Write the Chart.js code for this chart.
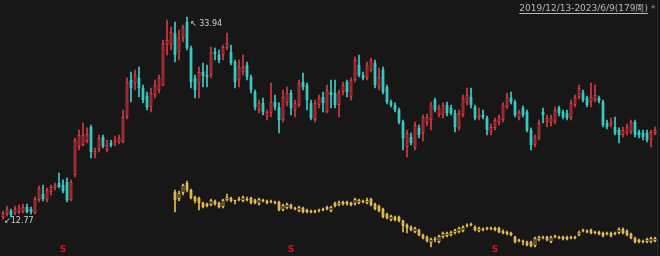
<!DOCTYPE html>
<html>
<head>
<meta charset="utf-8">
<script src="https://cdn.jsdelivr.net/npm/chart.js@4"></script>
<style>
  html, body { margin: 0; padding: 0; background: #171717; }
  #wrap { width: 660px; height: 256px; }
</style>
</head>
<body>
<div id="wrap"><canvas id="kline" width="660" height="256"></canvas></div>
<script>
// weekly candles, main stock
const open = [12.99,13.30,13.62,13.41,13.51,13.51,14.04,13.83,13.41,14.77,15.40,14.77,15.61,16.03,16.55,16.34,16.66,14.77,17.39,20.32,
  20.53,20.95,22.42,19.59,20.01,21.37,20.01,20.74,20.74,20.85,20.85,23.47,27.35,27.03,27.56,26.51,25.67,24.52,25.77,26.30,
  26.82,31.01,31.01,32.27,30.28,31.75,33.42,30.70,27.56,27.03,28.18,27.87,27.87,30.28,29.97,29.97,30.70,30.28,29.23,27.35,
  28.18,28.92,27.66,26.09,24.20,24.94,23.47,23.89,25.04,24.52,23.15,24.94,25.98,24.20,24.73,27.14,26.82,24.94,23.15,24.73,
  25.56,23.99,26.09,25.98,24.73,26.09,27.14,25.56,27.35,28.92,27.87,27.56,28.39,29.13,26.61,28.39,26.61,25.04,24.73,24.20,
  22.94,20.32,21.37,20.22,22.32,21.79,22.84,23.15,25.25,23.68,23.68,24.73,24.41,23.89,22.32,23.68,24.94,25.56,24.52,23.36,
  23.68,23.36,21.90,22.32,22.84,23.15,24.52,25.46,25.04,23.36,24.41,23.99,22.11,20.53,21.27,23.99,22.94,22.84,22.94,24.41,
  23.99,23.89,23.36,24.73,25.56,25.98,25.46,25.04,25.25,25.46,25.04,22.84,22.63,22.42,22.11,21.58,21.79,21.90,22.94,21.90,
  21.79,21.79,21.06,21.79];
const high = [13.62,14.14,13.83,14.14,14.24,14.35,14.35,14.04,15.08,16.24,16.34,16.03,16.34,16.55,17.60,16.87,17.08,16.87,21.27,22.11,
  22.84,22.32,22.63,20.22,21.58,21.58,21.06,21.06,21.48,21.58,24.20,27.56,28.18,28.39,28.71,26.82,26.09,26.51,27.35,27.87,
  31.54,33.63,32.90,33.42,32.59,33.11,33.94,30.91,27.87,28.71,29.13,28.92,30.80,30.70,30.49,31.01,32.27,31.01,29.44,29.44,
  29.97,29.23,27.87,26.30,25.25,25.46,24.20,27.03,25.77,24.94,26.30,26.61,26.30,25.25,27.35,28.08,27.03,25.25,25.25,25.77,
  26.09,26.82,27.35,27.35,26.30,27.14,27.35,27.56,29.76,29.97,28.18,29.23,29.65,29.44,28.60,28.71,26.82,25.25,24.94,24.41,
  23.15,22.11,21.79,22.94,22.63,23.68,23.78,25.04,25.46,24.73,24.94,25.04,24.73,24.20,24.20,25.77,26.51,26.51,24.73,24.41,
  24.20,23.57,22.73,23.36,23.68,24.94,25.98,26.09,25.25,24.20,24.62,24.20,22.32,21.58,23.15,24.41,23.68,23.68,24.52,24.62,
  24.20,24.20,25.25,25.77,26.82,26.30,25.67,27.03,26.82,25.67,25.25,23.15,23.36,23.47,22.32,22.42,22.73,23.15,23.15,22.11,
  22.11,22.11,22.11,22.42];
const low = [12.77,13.09,12.99,13.20,13.30,13.41,13.41,13.30,13.30,14.56,14.66,14.56,15.29,15.82,16.03,15.50,14.56,14.66,17.18,20.01,
  20.43,20.74,19.17,19.17,19.80,20.22,19.80,20.32,20.43,20.64,20.74,23.26,25.04,26.30,25.56,24.94,24.20,23.99,25.46,25.98,
  26.72,29.97,30.49,29.23,29.44,31.33,30.49,26.51,25.46,25.46,26.61,26.61,27.56,29.44,29.13,29.44,30.49,28.92,26.51,26.61,
  27.87,27.35,25.98,24.20,23.89,23.68,23.15,23.47,24.20,21.79,22.94,24.62,23.68,23.47,24.52,26.30,24.20,23.15,22.94,24.41,
  23.99,23.89,24.41,24.41,23.47,25.77,25.56,25.25,27.14,27.66,27.35,27.35,28.18,26.51,26.30,25.88,24.83,24.52,23.99,22.73,
  20.01,19.28,20.53,20.01,21.27,20.95,22.53,22.11,23.99,23.47,23.36,23.57,23.68,21.90,22.11,23.47,24.73,24.41,23.15,23.15,
  23.26,21.58,21.58,22.11,22.63,22.94,24.31,24.83,23.47,23.15,23.47,21.90,20.01,20.32,21.06,22.84,22.42,22.53,22.73,23.57,
  23.26,23.15,23.15,24.52,25.35,25.04,24.52,24.52,25.04,24.94,22.42,22.21,22.42,21.58,20.74,21.37,21.58,21.69,21.37,21.27,
  21.06,20.85,20.32,21.58];
const close = [13.41,13.83,13.20,13.83,13.93,14.04,13.51,13.51,14.87,16.03,14.87,15.82,16.13,16.34,16.13,15.71,14.77,16.66,21.06,21.58,
  21.58,21.69,19.80,19.91,21.27,20.43,20.53,20.53,21.06,21.27,23.47,27.14,26.51,27.87,26.51,25.25,24.52,25.98,26.82,27.56,
  31.22,31.54,32.38,29.97,31.75,32.90,30.70,27.14,26.30,28.18,27.77,27.66,30.28,30.07,29.44,30.80,31.22,29.13,27.14,28.71,
  28.71,27.66,26.30,24.52,24.94,23.99,23.99,25.04,24.52,23.15,25.56,25.98,24.41,24.94,27.03,26.61,25.25,23.36,24.94,25.46,
  24.94,26.30,25.77,24.73,26.09,26.82,26.09,27.35,29.44,27.87,27.56,28.92,29.44,26.82,27.66,26.09,25.04,24.73,24.20,22.94,
  21.27,21.79,20.74,22.63,21.58,23.47,23.47,24.73,24.20,24.41,24.73,23.89,23.89,22.42,23.89,25.46,25.77,24.73,23.36,23.68,
  23.47,22.11,22.42,23.15,23.47,24.73,25.56,25.04,23.68,23.99,23.68,22.11,20.53,21.37,22.84,23.68,23.36,23.36,24.20,23.89,
  23.47,23.36,24.94,25.56,26.51,25.25,24.73,25.56,25.77,25.15,22.63,22.42,22.94,21.79,21.58,22.11,22.42,22.94,21.58,21.58,
  21.37,21.06,21.90,22.11];

// comparison series (gold), starts at week 44
const cmpOpen = [null,null,null,null,null,null,null,null,null,null,null,null,null,null,null,null,null,null,null,null,
  null,null,null,null,null,null,null,null,null,null,null,null,null,null,null,null,null,null,null,null,
  null,null,null,15.61,14.87,15.50,16.55,15.82,15.08,14.98,14.45,14.35,14.24,14.66,14.45,14.04,14.77,14.98,14.77,14.87,
  14.66,14.87,14.98,14.77,14.35,14.77,14.66,14.66,14.56,14.56,13.72,13.93,14.24,13.93,13.62,13.93,13.72,13.62,13.62,13.72,
  13.83,14.04,13.62,14.45,14.24,14.56,14.56,14.45,14.35,14.45,14.66,14.45,14.87,14.35,14.14,13.83,13.30,12.67,12.99,12.99,
  12.57,12.15,11.94,11.42,11.63,11.10,10.89,10.26,10.68,10.37,10.89,11.00,11.10,11.31,11.42,11.52,12.15,12.26,11.94,11.52,
  11.73,11.84,11.84,11.84,11.84,11.52,11.42,11.31,10.89,10.58,10.47,10.37,10.37,9.95,10.58,10.89,10.89,10.37,11.00,10.89,
  10.89,10.89,10.89,10.89,11.10,11.63,11.52,11.63,11.42,11.42,11.31,11.31,11.31,11.31,11.31,11.73,11.52,11.21,10.79,10.58,
  10.47,10.37,10.37,10.47];
const cmpHigh = [null,null,null,null,null,null,null,null,null,null,null,null,null,null,null,null,null,null,null,null,
  null,null,null,null,null,null,null,null,null,null,null,null,null,null,null,null,null,null,null,null,
  null,null,null,15.82,15.71,16.45,16.76,15.92,15.19,15.08,14.56,14.45,14.87,14.77,14.56,14.87,15.40,15.08,14.77,15.08,
  15.19,15.08,15.08,14.87,14.98,14.87,14.77,14.77,14.66,14.66,14.35,14.45,14.35,14.04,14.14,14.04,13.83,13.72,13.72,13.83,
  13.93,14.14,14.14,14.56,14.66,14.66,14.66,14.56,14.98,14.87,14.77,14.98,14.98,14.45,14.24,13.93,13.41,13.20,13.09,13.09,
  12.67,12.26,12.05,11.94,11.73,11.21,11.00,10.79,10.89,11.10,11.42,11.42,11.52,11.73,11.94,12.05,12.26,12.36,12.05,11.94,
  11.84,11.94,11.94,11.94,11.94,11.63,11.52,11.42,11.00,10.68,10.58,10.47,10.47,10.89,11.00,11.00,11.00,11.00,11.10,11.00,
  11.00,11.00,11.00,11.00,11.52,11.73,11.63,11.73,11.52,11.52,11.42,11.42,11.42,11.42,11.84,11.84,11.63,11.31,10.89,10.68,
  10.58,10.79,10.89,10.89];
const cmpLow = [null,null,null,null,null,null,null,null,null,null,null,null,null,null,null,null,null,null,null,null,
  null,null,null,null,null,null,null,null,null,null,null,null,null,null,null,null,null,null,null,null,
  null,null,null,13.51,14.66,15.29,15.61,14.87,14.45,13.72,13.93,14.04,14.14,14.24,13.93,13.93,14.66,14.56,14.35,14.66,
  14.56,14.66,14.35,14.35,14.24,14.56,14.35,14.45,14.35,13.62,13.62,13.83,13.83,13.72,13.51,13.41,13.41,13.41,13.41,13.51,
  13.62,13.72,13.51,14.04,14.14,14.24,14.24,14.14,14.24,14.35,14.45,14.35,14.14,13.72,13.51,12.88,12.78,12.57,12.57,12.46,
  11.42,11.31,11.52,11.31,11.00,10.68,10.37,9.84,10.37,10.26,10.79,10.89,11.00,11.21,11.31,11.42,11.94,12.05,11.52,11.42,
  11.52,11.63,11.63,11.52,11.31,11.21,11.10,11.00,10.26,10.37,10.05,9.95,9.84,9.84,10.47,10.68,10.47,10.26,10.79,10.68,
  10.58,10.58,10.68,10.68,11.00,11.42,11.31,11.21,11.21,11.10,10.89,11.10,10.89,11.10,11.21,11.21,11.00,10.68,10.26,10.26,
  10.26,10.26,10.26,10.37];
const cmpClose = [null,null,null,null,null,null,null,null,null,null,null,null,null,null,null,null,null,null,null,null,
  null,null,null,null,null,null,null,null,null,null,null,null,null,null,null,null,null,null,null,null,
  null,null,null,14.77,15.50,16.34,15.82,14.98,14.66,14.45,14.04,14.14,14.77,14.35,14.04,14.77,15.08,14.66,14.66,14.77,
  15.08,14.77,14.45,14.45,14.87,14.66,14.45,14.56,14.45,13.72,14.24,14.35,13.93,13.83,14.04,13.51,13.51,13.51,13.51,13.62,
  13.72,13.83,14.04,14.14,14.56,14.35,14.35,14.24,14.87,14.77,14.56,14.77,14.24,13.83,13.62,12.99,12.88,13.09,12.67,12.57,
  12.05,11.84,11.63,11.84,11.10,10.79,10.47,10.68,10.58,11.00,11.31,11.31,11.42,11.63,11.84,11.94,12.05,12.15,11.63,11.84,
  11.63,11.73,11.73,11.63,11.42,11.31,11.21,11.10,10.37,10.47,10.37,10.05,9.95,10.79,10.89,10.79,10.58,10.89,10.89,10.79,
  10.68,10.68,10.79,10.79,11.42,11.52,11.42,11.31,11.31,11.21,11.00,11.21,11.00,11.21,11.73,11.31,11.10,10.79,10.37,10.37,
  10.37,10.68,10.79,10.79];

const weeks = open.map((_, i) => 'W' + (i + 1));
const signalWeeks = [15, 72, 123];
const rangeText = '2019/12/13-2023/6/9(179周)';

const BG = '#171717';
const RED = '#d43a40';
const RED_FILL = '#7e2428';
const CYAN = '#3ccfca';
const GOLD = '#e6bd55';

const isUp = (o, c, i) => c[i] >= o[i];

const overlay = {
  id: 'overlay',
  afterDatasetsDraw(chart) {
    const ctx = chart.ctx;
    const xs = chart.scales.x;
    const ys = chart.scales.y;
    ctx.save();
    ctx.font = '8px "DejaVu Sans", sans-serif';
    ctx.fillStyle = '#d0d0d0';
    ctx.textBaseline = 'middle';

    // max / min markers
    const hi = Math.max(...high);
    const hiIdx = high.indexOf(hi);
    ctx.textAlign = 'left';
    ctx.fillText('↖ ' + hi.toFixed(2), xs.getPixelForValue(hiIdx) + 3, ys.getPixelForValue(hi) + 7);
    const lo = Math.min(...low);
    const loIdx = low.indexOf(lo);
    ctx.fillText('↙' + lo.toFixed(2), xs.getPixelForValue(loIdx) + 1, ys.getPixelForValue(lo) + 2);

    // signals along the bottom
    ctx.font = 'bold 9px "DejaVu Sans", sans-serif';
    ctx.fillStyle = '#d8121c';
    ctx.textAlign = 'center';
    signalWeeks.forEach(w => {
      ctx.fillText('S', xs.getPixelForValue(w), 250);
    });

    // date range, top right
    ctx.font = '9px "DejaVu Sans", sans-serif';
    ctx.fillStyle = '#b8b8b8';
    ctx.textAlign = 'right';
    ctx.textBaseline = 'alphabetic';
    ctx.fillText(rangeText, 648, 11);
    const w = ctx.measureText(rangeText).width;
    ctx.fillRect(648 - w, 13, w, 1);
    ctx.font = '7px "DejaVu Sans", sans-serif';
    ctx.fillStyle = '#6e6e6e';
    ctx.textAlign = 'left';
    ctx.fillText('★', 650, 9);
    ctx.fillStyle = '#2a2a2a';
    ctx.fillRect(657, 0, 1, 256);
    ctx.restore();
  }
};

new Chart(document.getElementById('kline'), {
  type: 'bar',
  data: {
    labels: weeks,
    datasets: [{
      label: 'wick',
      data: low.map((l, i) => [l, high[i]]),
      backgroundColor: weeks.map((_, i) => isUp(open, close, i) ? RED : CYAN),
      barThickness: 1,
      grouped: false,
      order: 4
    }, {
      label: 'body',
      data: open.map((o, i) => [o, close[i]]),
      backgroundColor: weeks.map((_, i) => isUp(open, close, i) ? RED_FILL : CYAN),
      borderColor: weeks.map((_, i) => isUp(open, close, i) ? RED : CYAN),
      borderWidth: 1,
      borderSkipped: false,
      barPercentage: 0.8,
      categoryPercentage: 1,
      minBarLength: 1,
      grouped: false,
      order: 3
    }, {
      label: 'cmp wick',
      data: cmpLow.map((l, i) => l === null ? null : [l, cmpHigh[i]]),
      backgroundColor: GOLD,
      barThickness: 1,
      grouped: false,
      order: 2
    }, {
      label: 'cmp body',
      data: cmpOpen.map((o, i) => o === null ? null : [o, cmpClose[i]]),
      backgroundColor: weeks.map((_, i) => isUp(cmpOpen, cmpClose, i) ? BG : GOLD),
      borderColor: GOLD,
      borderWidth: 1,
      borderSkipped: false,
      barPercentage: 0.8,
      categoryPercentage: 1,
      minBarLength: 1,
      grouped: false,
      order: 1
    }]
  },
  options: {
    responsive: false,
    animation: false,
    layout: { padding: { left: 1, right: 3, top: 0, bottom: 0 } },
    plugins: { legend: { display: false }, tooltip: { enabled: false } },
    scales: {
      x: { display: false, offset: true },
      y: { display: false, min: 8.90, max: 35.73 }
    }
  },
  plugins: [overlay]
});
</script>
</body>
</html>
